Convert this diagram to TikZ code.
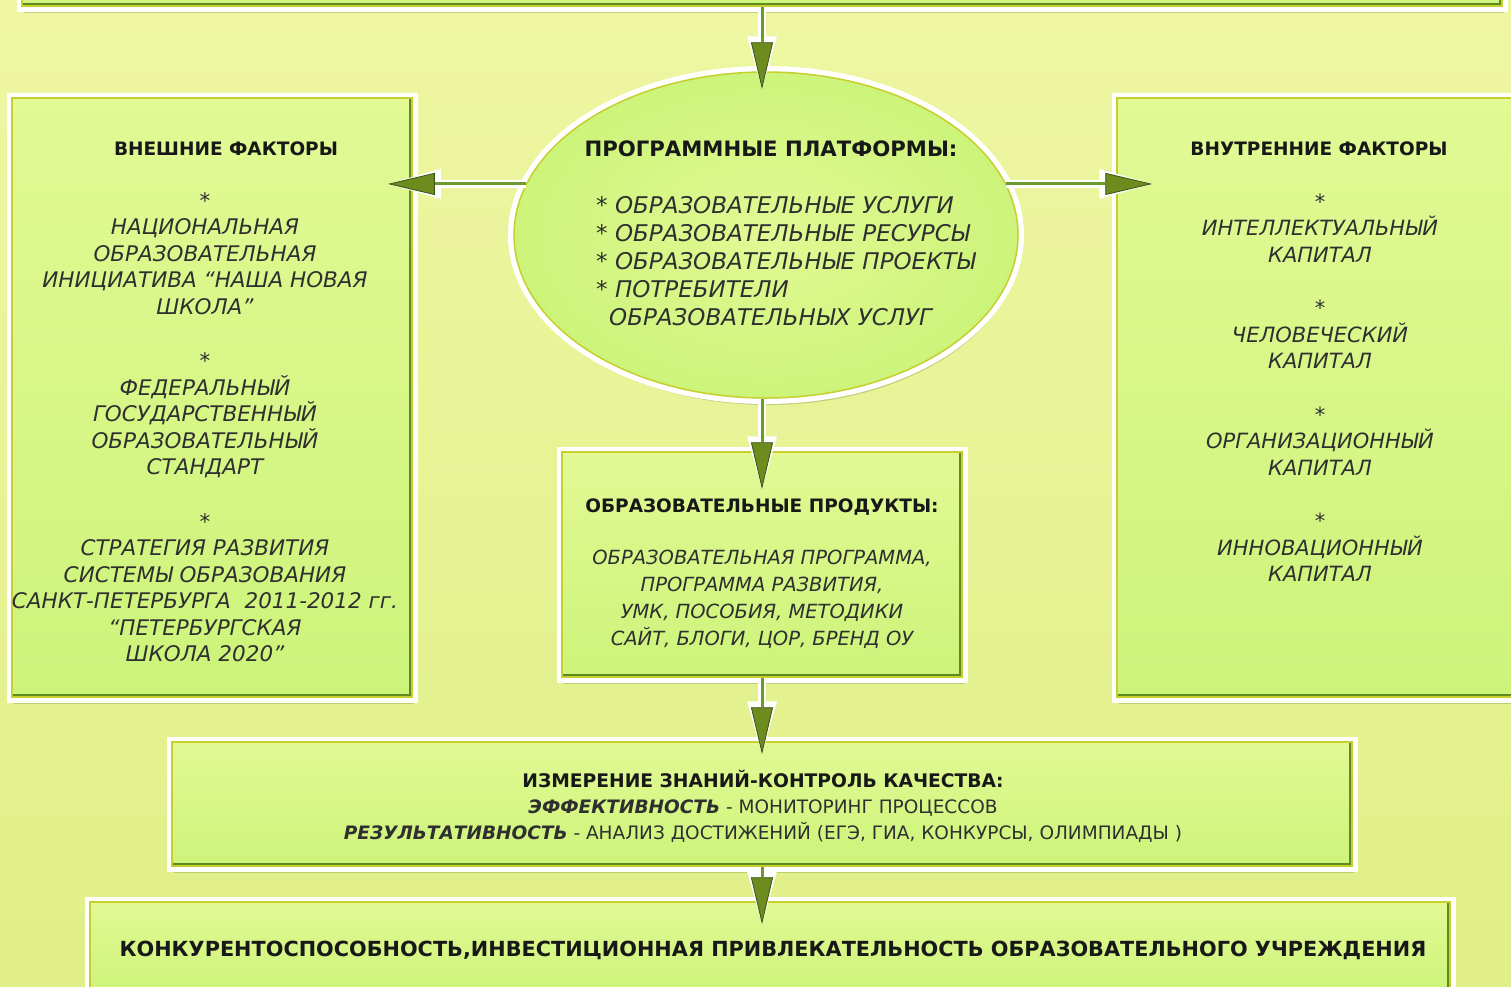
\documentclass[tikz,border=0pt]{standalone}
\usepackage{fontspec}
\setmainfont{DejaVu Sans}
\usepackage{tikz}
\usetikzlibrary{arrows.meta,shapes.geometric,shadows}
\definecolor{bgTop}{HTML}{EEF6A2}
\definecolor{bgBot}{HTML}{E0EF88}
\definecolor{boxTop}{HTML}{E2F994}
\definecolor{boxBot}{HTML}{CCF47A}
\definecolor{rim}{HTML}{C6CF2C}
\definecolor{edge}{HTML}{5E8A22}
\definecolor{wire}{HTML}{6B9B2C}
\definecolor{tipGreen}{HTML}{6E8C1E}
\definecolor{ink}{HTML}{181818}
\newcommand\starmark{\textup{*}}
\tikzset{
  panel/.style={rectangle, draw=rim, line width=1.5pt, top color=boxTop, bottom color=boxBot, inner sep=0pt,
    drop shadow={shadow xshift=2pt, shadow yshift=-7pt, opacity=0.22, fill=edge!60!black},
    preaction={draw=white, line width=11pt},
    path picture={\draw[edge, line width=6pt] (path picture bounding box.south west) -- (path picture bounding box.south east) -- (path picture bounding box.north east);}},
  platform/.style={ellipse, draw=rim, line width=1.5pt, inner color=boxTop, outer color=boxBot, inner sep=0pt,
    drop shadow={shadow xshift=2pt, shadow yshift=-7pt, opacity=0.22, fill=edge!60!black},
    preaction={draw=white, line width=12pt}},
  flow/.style={draw=wire, line width=3pt, -{Triangle[length=47pt,width=22pt,line width=0.8pt,color=edge!60!black,fill=tipGreen]},
    preaction={draw=white, line width=8pt, -{Triangle[length=53pt,width=30pt,line width=0pt]}}},
  head/.style={font=\bfseries\fontsize{18.5}{24}\selectfont, text=ink, anchor=base, inner sep=0pt},
  item/.style={font=\itshape\fontsize{21}{26.5}\selectfont, text=ink!90, anchor=base, inner sep=0pt, align=center}
}
\begin{document}
\begin{tikzpicture}[x=1pt,y=-1pt]
  \useasboundingbox (0,0) rectangle (1511,986);
  \clip (0,0) rectangle (1511,986);
  \fill[top color=bgTop, bottom color=bgBot] (0,0) rectangle (1511,986);

  \node[panel, minimum width=1480pt, minimum height=26pt] (top) at (762,-7) {};
  \node[panel, minimum width=400pt, minimum height=599pt] (ext) at (212,397.5) {};
  \node[panel, minimum width=398pt, minimum height=599pt] (int) at (1316,397.5) {};
  \node[platform, minimum width=504pt, minimum height=326pt] (plat) at (766,235) {};
  \node[panel, minimum width=400pt, minimum height=225pt] (prod) at (762,564.5) {};
  \node[panel, minimum width=1180pt, minimum height=124pt] (meas) at (762,804) {};
  \node[panel, minimum width=1360pt, minimum height=88pt] (comp) at (770,946) {};

  \node[head] (extH) at (226,155) {ВНЕШНИЕ ФАКТОРЫ};
  \node[item, font=\itshape\fontsize{21.5}{26.5}\selectfont] (extL) at (205,661.5) {\starmark\\ НАЦИОНАЛЬНАЯ\\ ОБРАЗОВАТЕЛЬНАЯ\\ ИНИЦИАТИВА “НАША НОВАЯ\\ ШКОЛА”\\[28pt]
    \starmark\\ ФЕДЕРАЛЬНЫЙ\\ ГОСУДАРСТВЕННЫЙ\\ ОБРАЗОВАТЕЛЬНЫЙ\\ СТАНДАРТ\\[28pt]
    \starmark\\ СТРАТЕГИЯ РАЗВИТИЯ\\ СИСТЕМЫ ОБРАЗОВАНИЯ\\ САНКТ-ПЕТЕРБУРГА~ 2011-2012 гг.\\ “ПЕТЕРБУРГСКАЯ\\ ШКОЛА 2020”};

  \node[head, font=\bfseries\fontsize{21.2}{28}\selectfont] (platH) at (771,156) {ПРОГРАММНЫЕ ПЛАТФОРМЫ:};
  \node[item, align=left, anchor=base west, font=\itshape\fontsize{23}{28}\selectfont] (platL) at (596,325.5)
    {\starmark{} ОБРАЗОВАТЕЛЬНЫЕ УСЛУГИ\\ \starmark{} ОБРАЗОВАТЕЛЬНЫЕ РЕСУРСЫ\\ \starmark{} ОБРАЗОВАТЕЛЬНЫЕ ПРОЕКТЫ\\
     \starmark{} ПОТРЕБИТЕЛИ\\ \hspace*{13pt}ОБРАЗОВАТЕЛЬНЫХ УСЛУГ};

  \node[head] (intH) at (1319,155) {ВНУТРЕННИЕ ФАКТОРЫ};
  \node[item] (intL) at (1320,581.5) {\starmark\\ ИНТЕЛЛЕКТУАЛЬНЫЙ\\ КАПИТАЛ\\[27pt] \starmark\\ ЧЕЛОВЕЧЕСКИЙ\\ КАПИТАЛ\\[27pt]
    \starmark\\ ОРГАНИЗАЦИОННЫЙ\\ КАПИТАЛ\\[27pt] \starmark\\ ИННОВАЦИОННЫЙ\\ КАПИТАЛ};

  \node[head] (prodH) at (762,512) {ОБРАЗОВАТЕЛЬНЫЕ ПРОДУКТЫ:};
  \node[item, font=\itshape\fontsize{19.5}{26.7}\selectfont] (prodL) at (762,645)
    {ОБРАЗОВАТЕЛЬНАЯ ПРОГРАММА,\\ ПРОГРАММА РАЗВИТИЯ,\\ УМК, ПОСОБИЯ, МЕТОДИКИ\\ САЙТ, БЛОГИ, ЦОР, БРЕНД ОУ};

  \node[head, font=\bfseries\fontsize{18.7}{26}\selectfont] (measH) at (763,787) {ИЗМЕРЕНИЕ ЗНАНИЙ-КОНТРОЛЬ КАЧЕСТВА:};
  \node[item, font=\fontsize{18.5}{26.5}\selectfont] (measL) at (763,839.5)
    {\textbf{\textit{ЭФФЕКТИВНОСТЬ}} - МОНИТОРИНГ ПРОЦЕССОВ\\ \textbf{\textit{РЕЗУЛЬТАТИВНОСТЬ}} - АНАЛИЗ ДОСТИЖЕНИЙ (ЕГЭ, ГИА, КОНКУРСЫ, ОЛИМПИАДЫ )};

  \node[head, font=\bfseries\fontsize{20.8}{26}\selectfont] (compH) at (773,956)
    {КОНКУРЕНТОСПОСОБНОСТЬ,ИНВЕСТИЦИОННАЯ ПРИВЛЕКАТЕЛЬНОСТЬ ОБРАЗОВАТЕЛЬНОГО УЧРЕЖДЕНИЯ};

  \draw[flow, shorten >=-18pt] (top.south -| prod) -- (plat.north -| prod);
  \draw[flow, shorten >=-25pt] (plat.168) -- (plat.168 -| ext.east);
  \draw[flow, shorten >=-36pt] (plat.12) -- (plat.12 -| int.west);
  \draw[flow, shorten >=-38pt] (plat.south -| prod) -- (prod.north);
  \draw[flow, shorten >=-13pt] (prod.south) -- (meas.north -| prod);
  \draw[flow, shorten >=-23pt] (meas.south -| prod) -- (comp.north -| prod);
\end{tikzpicture}
\end{document}
